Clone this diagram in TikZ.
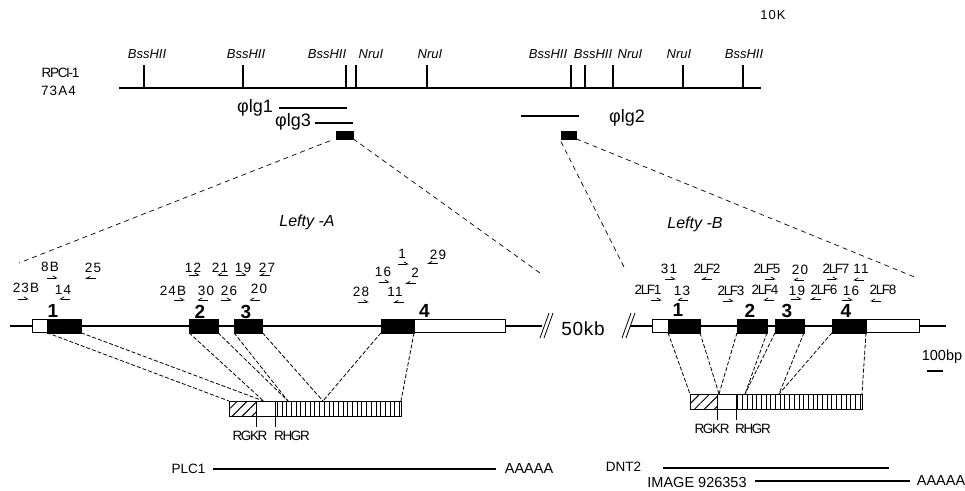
\documentclass[tikz,border=0pt]{standalone}
\usepackage{fontspec}
\usepackage{xcolor}
\usetikzlibrary{arrows.meta,patterns.meta}
\setmainfont{Liberation Sans}
\newfontfamily\numfont[LetterSpace=8]{Liberation Sans}
\newfontfamily\tightfont[LetterSpace=-10]{Liberation Sans}
\newfontfamily\kbfont[LetterSpace=4]{Liberation Sans}
\newcommand{\fs}[1]{\fontsize{#1}{#1}\selectfont}

\begin{document}
\begin{tikzpicture}[x=1pt,y=-1pt,
txt/.style={inner sep=0,outer sep=0,align=center},
enz/.style={txt,font=\fs{13}\itshape},
num/.style={txt,font=\fs{13.5}\numfont},
tight/.style={txt,font=\fs{13.5}\tightfont},
phi/.style={txt,font=\fs{18}},
exn/.style={txt,font=\fs{19}\bfseries},
tail/.style={txt,font=\fs{14.5}},
blk/.style={draw=black,fill=black,inner sep=0,outer sep=0,minimum height=13.5pt},
utr/.style={draw=black,fill=white,line width=.8pt,inner sep=0,outer sep=0,minimum height=13.5pt},
wht/.style={draw=black,line width=.7pt,fill=white,inner sep=0,outer sep=0,minimum height=15pt,minimum width=19pt},
hat/.style={draw=black,line width=.7pt,inner sep=0,outer sep=0,minimum height=15pt,minimum width=27pt,pattern={Lines[angle=45,distance=7pt,line width=1pt]}},
vst/.style={draw=black,line width=.7pt,inner sep=0,outer sep=0,minimum height=15pt,minimum width=126pt,pattern={Lines[angle=90,distance=4.7pt,line width=.9pt]}},
bar/.style={line width=1.8pt},
tck/.style={line width=1.5pt},
thn/.style={line width=.8pt},
zm/.style={line width=.7pt,dash pattern=on 5pt off 4pt},
exd/.style={line width=.8pt,dash pattern=on 4pt off 2pt},
fw/.style={line width=.8pt,-{Straight Barb[left,length=1.3mm,width=1.5mm]}},
bw/.style={line width=.8pt,-{Straight Barb[right,length=1.3mm,width=1.5mm]}}]
\useasboundingbox (0,0) rectangle (965,490);

% clone map
\node[txt,font=\fs{13}\numfont] (scale) at (773,15) {10K};
\node[txt,font=\fs{13.5}\tightfont] (rpci) at (60.5,73) {RPCI-1};
\node[txt,font=\fs{13.5}\numfont] (cln) at (58.5,91) {73A4};
\coordinate (mL) at (119,88); \coordinate (mR) at (761,88);
\draw[bar] (mL)--(mR);
\foreach \n/\t/\lx/\tx in {a/BssHII/147/144,b/BssHII/246/243,c/BssHII/327/346,d/NruI/371/356,e/NruI/430/427,f/BssHII/548/571,g/BssHII/593/585,h/NruI/630/613,i/NruI/679/683,j/BssHII/744/743}{
\node[enz] (r\n) at (\lx,54) {\t};
\coordinate (t\n) at (\tx,65);
\draw[tck] (t\n)--(t\n|-mL);
}

% phage clones
\node[phi] (lg1) at (255,108) {φlg1};
\node[phi] (lg3) at (293,122) {φlg3};
\node[phi] (lg2) at (627,118) {φlg2};
\coordinate (c1a) at (279,108); \coordinate (c1b) at (347,108);
\coordinate (c3a) at (315,123); \coordinate (c3b) at (353,123);
\coordinate (c2a) at (521,116); \coordinate (c2b) at (579,116);
\draw[bar] (c1a)--(c1b); \draw[bar] (c3a)--(c3b); \draw[bar] (c2a)--(c2b);
\node[blk,minimum width=17pt,minimum height=7.5pt] (pA) at (344.5,135) {};
\node[blk,minimum width=15pt,minimum height=7.5pt] (pB) at (568.5,135) {};

% Lefty-A gene
\node[txt,font=\fs{16}\itshape] (nameA) at (307,222) {Lefty -A};
\coordinate (aL) at (10,326); \coordinate (aR) at (542,326);
\node[utr,minimum width=15pt] (uA) at (39.5,326) {};
\node[blk,minimum width=34pt] (A1) at (64,326) {};
\node[blk,minimum width=29pt] (A2) at (203.5,326) {};
\node[blk,minimum width=28.5pt] (A3) at (248.25,326) {};
\node[utr,minimum width=91pt] (vA) at (459.5,326) {};
\node[blk,minimum width=33pt] (A4) at (397.5,326) {};
\draw[bar] (aL)--(uA); \draw[bar] (A1)--(A2); \draw[bar] (A2)--(A3); \draw[bar] (A3)--(A4); \draw[bar] (vA)--(aR);
\node[exn] (n1) at (53,311) {1}; \node[exn] (n2) at (200,312) {2}; \node[exn] (n3) at (246,312) {3}; \node[exn] (n4) at (424.5,311) {4};

% Lefty-B gene
\node[txt,font=\fs{16}\itshape] (nameB) at (695,224) {Lefty -B};
\coordinate (bL) at (630,326); \coordinate (bR) at (946,326);
\node[utr,minimum width=15.5pt] (uB) at (660.25,326) {};
\node[blk,minimum width=32pt] (B1) at (684,326) {};
\node[blk,minimum width=30pt] (B2) at (752,326) {};
\node[blk,minimum width=29pt] (B3) at (789.5,326) {};
\node[utr,minimum width=53pt] (vB) at (892.5,326) {};
\node[blk,minimum width=34pt] (B4) at (849,326) {};
\draw[bar] (bL)--(uB); \draw[bar] (B1)--(B2); \draw[bar] (B2)--(B3); \draw[bar] (B3)--(B4); \draw[bar] (vB)--(bR);
\node[exn] (m1) at (678,310) {1}; \node[exn] (m2) at (750,311) {2}; \node[exn] (m3) at (787,311) {3}; \node[exn] (m4) at (846,311) {4};

% break and scale
\coordinate (k1) at (540,338); \coordinate (k2) at (544,338); \coordinate (k3) at (622,338); \coordinate (k4) at (626,338);
\draw[thn] (k1)--++(9,-25); \draw[thn] (k2)--++(9,-25);
\draw[thn] (k3)--++(9,-25); \draw[thn] (k4)--++(9,-25);
\node[txt,font=\fs{19}\kbfont] (kb) at (583,329) {50kb};
\node[txt,font=\fs{14.5}] (bp) at (942,357) {100bp};
\coordinate (sL) at (927,371); \coordinate (sR) at (943,371);
\draw[bar] (sL)--(sR);

% primers, forward
\foreach \n/\t/\x/\y/\ax/\ay in {a/8B/50/267/47/278,b/23B/26/288/18/299,c/12/193/268/189/275,d/19/243/268/236/275,e/24B/173/291/174/300,f/26/229/291/221/300,g/1/402/254/398/264,h/16/383/272/379/282,i/28/361/292/358/302,j/31/669/269/665/279,l/19/797/291/791/299,m/16/851/291/842/300}{
\node[num] (f\n) at (\x,\y) {\t};
\coordinate (fa\n) at (\ax,\ay);
\draw[fw] (fa\n)--++(11,0);
}
\foreach \n/\t/\x/\y/\ax/\ay in {a/2LF5/767/269/765/279,b/2LF7/836/269/827/279,c/2LF1/648/290/651/300,d/2LF3/731/291/723/301}{
\node[tight] (s\n) at (\x,\y) {\t};
\coordinate (sa\n) at (\ax,\ay);
\draw[fw] (sa\n)--++(11,0);
}

% primers, reverse
\foreach \n/\t/\x/\y/\ax/\ay in {a/25/93/268/96/278.5,b/14/63/290/70/299,c/21/220/268/228/275,d/27/267/268/270/275.5,e/30/206/291/208/300,f/20/259/289/260/300,g/29/438/255/438/263.5,h/2/415/273/416/283.5,i/11/395/292/404/302.5,j/20/800/270/804/280,k/11/861/269/864/280,l/13/682/291/688/300}{
\node[num] (b\n) at (\x,\y) {\t};
\coordinate (ba\n) at (\ax,\ay);
\draw[bw] (ba\n)--++(-11,0);
}
\foreach \n/\t/\x/\y/\ax/\ay in {a/2LF2/707/269/712/279.5,b/2LF4/765/290/774/300,c/2LF6/824/290/821/299.5,d/2LF8/883/290/881/301}{
\node[tight] (u\n) at (\x,\y) {\t};
\coordinate (ua\n) at (\ax,\ay);
\draw[bw] (ua\n)--++(-11,0);
}

% cDNA A
\node[hat] (hA) at (242.5,408.5) {};
\node[wht] (wA) at (265.5,408.5) {};
\node[vst] (sA) at (338,408.5) {};
\node[tight] (rgA) at (250,436) {RGKR};
\node[tight] (rhA) at (292,436) {RHGR};
\draw[thn] (wA.south west)--++(0,11); \draw[thn] (wA.south east)--++(0,11);

% cDNA B
\node[hat] (hB) at (703.5,401.5) {};
\node[wht] (wB) at (726.5,401.5) {};
\node[vst] (sB) at (799,401.5) {};
\node[tight] (rgB) at (712,429) {RGKR};
\node[tight] (rhB) at (753,429) {RHGR};
\draw[thn] (wB.south west)--++(0,11); \draw[thn] (wB.south east)--++(0,11);

% zoom lines
\coordinate (zA) at (19,263); \coordinate (zB) at (540,273); \coordinate (zC) at (625,269); \coordinate (zD) at (917,278);
\draw[zm] ([shift={(-6,2)}]pA.south west)--(zA); \draw[zm] (pA.south east)--(zB);
\draw[zm] ([shift={(0,3)}]pB.south west)--(zC); \draw[zm] (pB.south east)--(zD);

% exon to cDNA, A
\draw[exd] (A1.south west)--(hA.north west); \draw[exd] (A1.south east)--([xshift=-2pt]wA.north);
\draw[exd] (A2.south west)--([xshift=-2pt]wA.north); \draw[exd] (A2.south east)--([xshift=13pt]wA.north east);
\draw[exd] (A3.south west)--([xshift=13pt]wA.north east); \draw[exd] (A3.south east)--([xshift=-15pt]sA.north);
\draw[exd] (A4.south west)--([xshift=-15pt]sA.north); \draw[exd] (A4.south east)--(sA.north east);

% exon to cDNA, B
\draw[exd] (B1.south west)--(hB.north west); \draw[exd] (B1.south east)--([xshift=2pt]wB.north west);
\draw[exd] (B2.south west)--([xshift=2pt]wB.north west); \draw[exd] (B2.south east)--([xshift=9pt]wB.north east);
\draw[exd] (B3.south west)--([xshift=9pt]wB.north east); \draw[exd] (B3.south east)--([xshift=-20pt]sB.north);
\draw[exd] (B4.south west)--([xshift=-20pt]sB.north); \draw[exd] (B4.south east)--(sB.north east);

% transcripts
\node[txt,font=\fs{13.5}] (plc) at (188.5,469) {PLC1};
\node[tail] (aaA) at (529,469) {AAAAA};
\coordinate (pS) at (213,469); \coordinate (pE) at (496,469);
\draw[bar] (pS)--(pE);
\node[txt,font=\fs{13.5}] (dnt) at (623.5,467) {DNT2};
\coordinate (dS) at (663,468); \coordinate (dE) at (889,468);
\draw[bar] (dS)--(dE);
\node[txt,font=\fs{14.5}] (img) at (697,482) {IMAGE 926353};
\node[tail] (aaB) at (941,481) {AAAAA};
\coordinate (iS) at (755,481); \coordinate (iE) at (910,481);
\draw[bar] (iS)--(iE);
\end{tikzpicture}
\end{document}
